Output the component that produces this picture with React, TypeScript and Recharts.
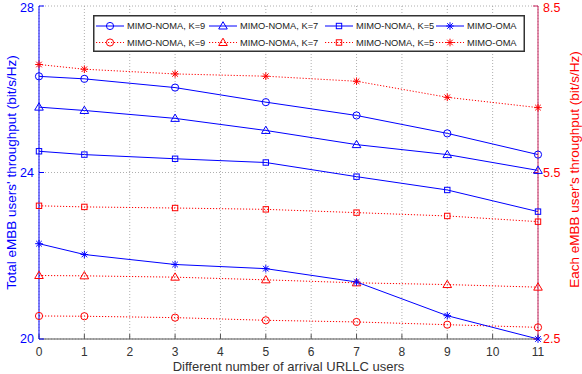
import React from 'react';
import { LineChart, Line, XAxis, YAxis, CartesianGrid, Legend } from 'recharts';

const xs = [0, 1, 3, 5, 7, 9, 11];
const totalK9 = [26.31, 26.25, 26.04, 25.69, 25.37, 24.94, 24.43];
const totalK7 = [25.57, 25.49, 25.3, 25.01, 24.67, 24.43, 24.05];
const totalK5 = [24.51, 24.43, 24.33, 24.24, 23.9, 23.58, 23.06];
const totalOMA = [22.29, 22.03, 21.79, 21.69, 21.37, 20.56, 20.0];
const eachK9 = [2.915, 2.91, 2.885, 2.837, 2.807, 2.758, 2.71];
const eachK7 = [3.644, 3.638, 3.614, 3.566, 3.512, 3.481, 3.434];
const eachK5 = [4.9, 4.88, 4.86, 4.836, 4.777, 4.717, 4.614];
const eachOMA = [7.446, 7.361, 7.276, 7.235, 7.144, 6.855, 6.669];

const xTicks = [0, 1, 2, 3, 4, 5, 6, 7, 8, 9, 10, 11];
const leftTicks = [20, 24, 28];
const rightTicks = [2.5, 5.5, 8.5];

const data = xs.map((x, i) => ({
  x,
  totalK9: totalK9[i],
  totalK7: totalK7[i],
  totalK5: totalK5[i],
  totalOMA: totalOMA[i],
  eachK9: eachK9[i],
  eachK7: eachK7[i],
  eachK5: eachK5[i],
  eachOMA: eachOMA[i],
}));

const BLUE = '#0000ff';
const RED = '#ff0000';
const FONT = '"Liberation Sans", Arial, Helvetica, sans-serif';

type Shape = 'circle' | 'triangle' | 'square' | 'star';

const Marker = ({ shape, cx, cy, color }: { shape: Shape; cx: number; cy: number; color: string }) => {
  if (cx == null || cy == null) return null;
  if (shape === 'circle') return <circle cx={cx} cy={cy} r={3.6} fill="none" stroke={color} strokeWidth={1} />;
  if (shape === 'triangle')
    return (
      <polygon
        points={`${cx},${cy - 4.3} ${cx - 4.3},${cy + 3} ${cx + 4.3},${cy + 3}`}
        fill="none"
        stroke={color}
        strokeWidth={1}
      />
    );
  if (shape === 'square')
    return <rect x={cx - 2.7} y={cy - 2.7} width={5.4} height={5.4} fill="none" stroke={color} strokeWidth={1} />;
  const d = 3.8;
  const e = 2.8;
  return (
    <g stroke={color} strokeWidth={1}>
      <line x1={cx - d} y1={cy} x2={cx + d} y2={cy} />
      <line x1={cx} y1={cy - d} x2={cx} y2={cy + d} />
      <line x1={cx - e} y1={cy - e} x2={cx + e} y2={cy + e} />
      <line x1={cx - e} y1={cy + e} x2={cx + e} y2={cy - e} />
    </g>
  );
};

const mkDot = (shape: Shape, color: string) => (props: any) => (
  <Marker key={`${shape}-${color}-${props.index}`} shape={shape} cx={props.cx} cy={props.cy} color={color} />
);

const legendItems: { label: string; shape: Shape; color: string; dashed: boolean }[][] = [
  [
    { label: 'MIMO-NOMA, K=9', shape: 'circle', color: BLUE, dashed: false },
    { label: 'MIMO-NOMA, K=7', shape: 'triangle', color: BLUE, dashed: false },
    { label: 'MIMO-NOMA, K=5', shape: 'square', color: BLUE, dashed: false },
    { label: 'MIMO-OMA', shape: 'star', color: BLUE, dashed: false },
  ],
  [
    { label: 'MIMO-NOMA, K=9', shape: 'circle', color: RED, dashed: true },
    { label: 'MIMO-NOMA, K=7', shape: 'triangle', color: RED, dashed: true },
    { label: 'MIMO-NOMA, K=5', shape: 'square', color: RED, dashed: true },
    { label: 'MIMO-OMA', shape: 'star', color: RED, dashed: true },
  ],
];
const colMarker = [17, 130, 246, 357];
const rowY = [11, 27.5];

const renderLegend = () => (
  <svg width={432} height={37} style={{ display: 'block' }}>
    <rect x={0.75} y={0.75} width={430.5} height={35.5} fill="#fff" stroke="#333" strokeWidth={1.5} />
    {legendItems.map((row, r) =>
      row.map((it, c) => (
        <g key={`${r}-${c}`}>
          <line
            x1={colMarker[c] - 14}
            x2={colMarker[c] + 14}
            y1={rowY[r]}
            y2={rowY[r]}
            stroke={it.color}
            strokeWidth={1}
            strokeDasharray={it.dashed ? '1.2 1.8' : undefined}
          />
          <Marker shape={it.shape} cx={colMarker[c]} cy={rowY[r]} color={it.color} />
          <text
            x={colMarker[c] + 17}
            y={rowY[r]}
            dy="0.35em"
            fontSize={9.3}
            fontFamily={FONT}
            fill="#222"
          >
            {it.label}
          </text>
        </g>
      ))
    )}
  </svg>
);

export default function App() {
  return (
    <div style={{ position: 'fixed', left: 0, top: 0, width: 582, height: 374, background: '#fff' }}>
      <LineChart width={582} height={374} data={data} margin={{ top: 6, right: 0, bottom: 0, left: 0 }}>
        <CartesianGrid
          xAxisId="bottom"
          yAxisId="left"
          stroke="#9a9a9a"
          strokeDasharray="1 2"
          strokeWidth={0.8}
        />
        <XAxis
          xAxisId="bottom"
          dataKey="x"
          type="number"
          domain={[0, 11]}
          ticks={xTicks}
          height={35}
          stroke="#555"
          tickSize={-5}
          tickMargin={13}
          tick={{ fill: '#333', fontSize: 12, fontFamily: FONT }}
          label={{
            content: ({ viewBox }: any) => (
              <text
                x={viewBox.x + viewBox.width / 2}
                y={371}
                textAnchor="middle"
                fontSize={13}
                fontFamily={FONT}
                fill="#333"
              >
                Different number of arrival URLLC  users
              </text>
            ),
          }}
        />
        <XAxis
          xAxisId="top"
          orientation="top"
          dataKey="x"
          type="number"
          domain={[0, 11]}
          ticks={xTicks}
          height={0}
          stroke="#444"
          tickSize={-5}
          tickFormatter={() => ''}
        />
        <YAxis
          yAxisId="left"
          domain={[20, 28]}
          ticks={leftTicks}
          width={39}
          stroke={BLUE}
          tickSize={-5}
          tickMargin={10}
          tick={{ fill: BLUE, fontSize: 12.5, fontFamily: FONT }}
          label={{
            content: ({ viewBox }: any) => (
              <text
                x={16}
                y={viewBox.y + viewBox.height / 2}
                transform={`rotate(-90 16 ${viewBox.y + viewBox.height / 2})`}
                textAnchor="middle"
                fontSize={13.5}
                fontFamily={FONT}
                fill={BLUE}
              >
                Total eMBB users' throughput (bit/s/Hz)
              </text>
            ),
          }}
        />
        <YAxis
          yAxisId="right"
          orientation="right"
          domain={[2.5, 8.5]}
          ticks={rightTicks}
          width={44}
          stroke="#c81e5a"
          tickSize={-5}
          tickMargin={10}
          tick={{ fill: RED, fontSize: 12.5, fontFamily: FONT }}
          label={{
            content: ({ viewBox }: any) => (
              <text
                x={579}
                y={viewBox.y + viewBox.height / 2 - 3}
                transform={`rotate(-90 579 ${viewBox.y + viewBox.height / 2 - 3})`}
                textAnchor="middle"
                fontSize={13.5}
                fontFamily={FONT}
                fill={RED}
              >
                Each eMBB user's throughput (bit/s/Hz)
              </text>
            ),
          }}
        />
        <Legend
          content={renderLegend}
          layout="vertical"
          align="center"
          verticalAlign="middle"
          wrapperStyle={{ position: 'absolute', left: 93, top: 15, width: 432, height: 37 }}
        />
        <Line xAxisId="bottom" yAxisId="right" dataKey="eachK9" stroke={RED} strokeWidth={1} strokeDasharray="1.2 1.8" dot={mkDot('circle', RED)} isAnimationActive={false} />
        <Line xAxisId="bottom" yAxisId="right" dataKey="eachK7" stroke={RED} strokeWidth={1} strokeDasharray="1.2 1.8" dot={mkDot('triangle', RED)} isAnimationActive={false} />
        <Line xAxisId="bottom" yAxisId="right" dataKey="eachK5" stroke={RED} strokeWidth={1} strokeDasharray="1.2 1.8" dot={mkDot('square', RED)} isAnimationActive={false} />
        <Line xAxisId="bottom" yAxisId="right" dataKey="eachOMA" stroke={RED} strokeWidth={1} strokeDasharray="1.2 1.8" dot={mkDot('star', RED)} isAnimationActive={false} />
        <Line xAxisId="bottom" yAxisId="left" dataKey="totalK9" stroke={BLUE} strokeWidth={1} dot={mkDot('circle', BLUE)} isAnimationActive={false} />
        <Line xAxisId="bottom" yAxisId="left" dataKey="totalK7" stroke={BLUE} strokeWidth={1} dot={mkDot('triangle', BLUE)} isAnimationActive={false} />
        <Line xAxisId="bottom" yAxisId="left" dataKey="totalK5" stroke={BLUE} strokeWidth={1} dot={mkDot('square', BLUE)} isAnimationActive={false} />
        <Line xAxisId="bottom" yAxisId="left" dataKey="totalOMA" stroke={BLUE} strokeWidth={1} dot={mkDot('star', BLUE)} isAnimationActive={false} />
      </LineChart>
    </div>
  );
}
